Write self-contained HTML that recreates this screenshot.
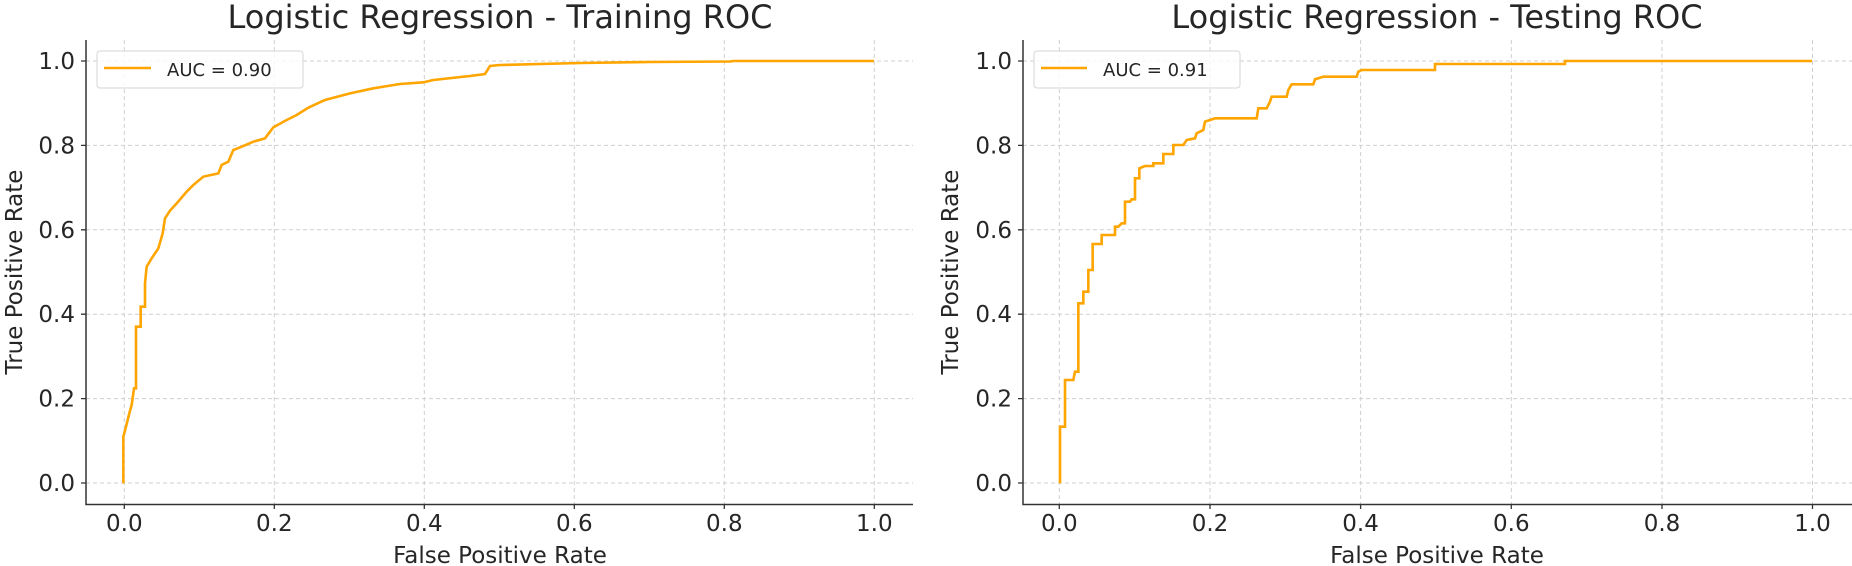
<!DOCTYPE html>
<html><head><meta charset="utf-8"><style>
html,body{margin:0;padding:0;background:#fff;}
svg{display:block;}
text{font-family:"DejaVu Sans","Liberation Sans",sans-serif;fill:#262626;}
.g{stroke:#cfcfcf;stroke-width:1;stroke-dasharray:4,3;fill:none;}
.sp{stroke:#333;stroke-width:1.5;fill:none;}
.tk{stroke:#333;stroke-width:1.3;}
.t{font-size:23px;}
.c{fill:none;stroke:#ffa500;stroke-width:2.6;stroke-linejoin:miter;}
</style></head><body>
<svg width="1852" height="566" viewBox="0 0 1852 566" xmlns="http://www.w3.org/2000/svg">
<!-- LEFT PLOT -->
<g>
<g class="g">
<path d="M124.3 40V504M274.3 40V504M424.3 40V504M574.3 40V504M724.3 40V504M874.3 40V504"/>
<path d="M86 483H913M86 398.6H913M86 314.2H913M86 229.8H913M86 145.4H913M86 61H913"/>
</g>
<path class="sp" d="M86 40V504.5H913"/>
<g class="tk">
<path d="M124.3 504V509M274.3 504V509M424.3 504V509M574.3 504V509M724.3 504V509M874.3 504V509"/>
<path d="M86 483H81M86 398.6H81M86 314.2H81M86 229.8H81M86 145.4H81M86 61H81"/>
</g>
<g class="t" text-anchor="middle">
<text x="124.3" y="531">0.0</text><text x="274.3" y="531">0.2</text><text x="424.3" y="531">0.4</text><text x="574.3" y="531">0.6</text><text x="724.3" y="531">0.8</text><text x="874.3" y="531">1.0</text>
</g>
<g class="t" text-anchor="end">
<text x="75" y="491">0.0</text><text x="75" y="406.6">0.2</text><text x="75" y="322.2">0.4</text><text x="75" y="237.8">0.6</text><text x="75" y="153.4">0.8</text><text x="75" y="69">1.0</text>
</g>
<text class="t" x="500" y="563" text-anchor="middle">False Positive Rate</text>
<text class="t" transform="translate(22,272) rotate(-90)" text-anchor="middle">True Positive Rate</text>
<text x="500" y="28" text-anchor="middle" style="font-size:32px">Logistic Regression - Training ROC</text>
<polyline class="c" transform="translate(110,40) scale(0.33333)" vector-effect="non-scaling-stroke" points="40,1330 40,1190 48,1160 58,1120 65,1095 72,1045 78,1045 78,860 92,860 92,800 105,800 105,730 110,680 125,655 145,625 158,580 165,535 180,512 200,490 230,455 250,435 280,410 325,400 335,375 355,365 370,330 395,320 430,305 465,295 490,262 530,240 560,225 595,203 645,180 720,160 790,145 870,132 940,127 970,120 1080,108 1125,102 1140,78 1170,75 1410,69 1620,66 1860,64.5 1869,63 2292,63"/>
<rect x="97" y="51" width="206" height="37" rx="3" fill="#fff" fill-opacity="0.8" stroke="#d5d5d5" stroke-width="1"/>
<line x1="104" y1="68" x2="151" y2="68" stroke="#ffa500" stroke-width="2.6"/>
<text x="167" y="76" style="font-size:18px">AUC = 0.90</text>
</g>
<!-- RIGHT PLOT -->
<g>
<g class="g">
<path d="M1059.3 40V504M1210 40V504M1360.6 40V504M1511.3 40V504M1662 40V504M1812.5 40V504"/>
<path d="M1023 483H1852M1023 398.6H1852M1023 314.2H1852M1023 229.8H1852M1023 145.4H1852M1023 61H1852"/>
</g>
<path class="sp" d="M1023 40V504.5H1852"/>
<g class="tk">
<path d="M1059.3 504V509M1210 504V509M1360.6 504V509M1511.3 504V509M1662 504V509M1812.5 504V509"/>
<path d="M1023 483H1018M1023 398.6H1018M1023 314.2H1018M1023 229.8H1018M1023 145.4H1018M1023 61H1018"/>
</g>
<g class="t" text-anchor="middle">
<text x="1059.3" y="531">0.0</text><text x="1210" y="531">0.2</text><text x="1360.6" y="531">0.4</text><text x="1511.3" y="531">0.6</text><text x="1662" y="531">0.8</text><text x="1812.5" y="531">1.0</text>
</g>
<g class="t" text-anchor="end">
<text x="1012" y="491">0.0</text><text x="1012" y="406.6">0.2</text><text x="1012" y="322.2">0.4</text><text x="1012" y="237.8">0.6</text><text x="1012" y="153.4">0.8</text><text x="1012" y="69">1.0</text>
</g>
<text class="t" x="1437" y="563" text-anchor="middle">False Positive Rate</text>
<text class="t" transform="translate(958,272) rotate(-90)" text-anchor="middle">True Positive Rate</text>
<text x="1437" y="28" text-anchor="middle" style="font-size:32px">Logistic Regression - Testing ROC</text>
<polyline class="c" transform="translate(1050,40) scale(0.33333)" vector-effect="non-scaling-stroke" points="30,1330 30,1160 45,1160 45,1020 70,1020 75,995 85,995 85,790 100,790 100,755 115,755 115,690 128,690 128,612 155,612 155,585 195,585 195,560 205,560 215,550 225,550 225,485 240,485 245,478 255,478 255,415 268,415 268,385 285,378 310,378 310,370 340,370 340,342 370,342 370,315 400,315 410,300 435,295 440,280 460,270 465,245 480,240 495,235 620,235 625,205 650,205 660,185 665,170 710,170 715,150 725,133 790,133 795,118 820,110 920,110 925,95 935,90 1155,90 1155,72 1545,72 1545,63 2286,63"/>
<rect x="1034" y="51" width="206" height="37" rx="3" fill="#fff" fill-opacity="0.8" stroke="#d5d5d5" stroke-width="1"/>
<line x1="1041" y1="68" x2="1087" y2="68" stroke="#ffa500" stroke-width="2.6"/>
<text x="1103" y="76" style="font-size:18px">AUC = 0.91</text>
</g>
</svg>
</body></html>
